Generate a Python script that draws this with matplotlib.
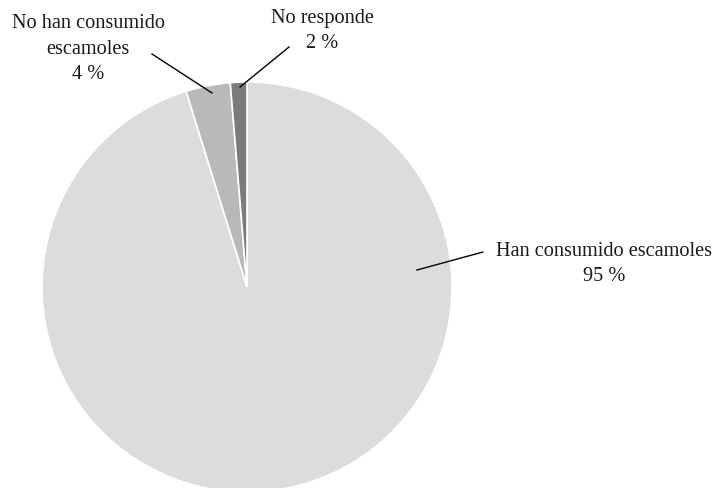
import matplotlib.pyplot as plt

# Encuesta: consumo de escamoles
labels = ['Han consumido escamoles', 'No han consumido\nescamoles', 'No responde']
values = [95.2, 3.5, 1.3]
pct_text = ['95 %', '4 %', '2 %']
colors = ['#dcdcdd', '#b9b9ba', '#7b7b7c']

W, H = 717, 488
plt.rcParams['font.family'] = ['Liberation Serif', 'DejaVu Serif']

fig = plt.figure(figsize=(W / 100, H / 100), dpi=100)
ax = fig.add_axes([0, 0, 1, 1])

# pixel coords (from top) -> data coords
def P(x, y):
    return x, H - y

ax.pie(values, colors=colors, startangle=90, counterclock=False,
       center=P(247, 287), radius=205,
       wedgeprops=dict(edgecolor='white', linewidth=1.2))
ax.set_xlim(0, W)
ax.set_ylim(0, H)
ax.set_aspect('equal')
ax.axis('off')

# leader lines and labels
lines = [((417, 270), (483, 252)), ((212, 93), (152, 54)), ((240, 87), (289, 47))]
text_pos = [(604, 264), (88, 49), (322, 31)]
for (a, b), (tx, ty), lab, pct in zip(lines, text_pos, labels, pct_text):
    ax.plot(*zip(P(*a), P(*b)), color='black', linewidth=1)
    ax.text(*P(tx, ty), lab + '\n' + pct, ha='center', va='center',
            fontsize=14.6, linespacing=1.45, color='#1a1a1a')

fig.savefig('out.png', dpi=100)
